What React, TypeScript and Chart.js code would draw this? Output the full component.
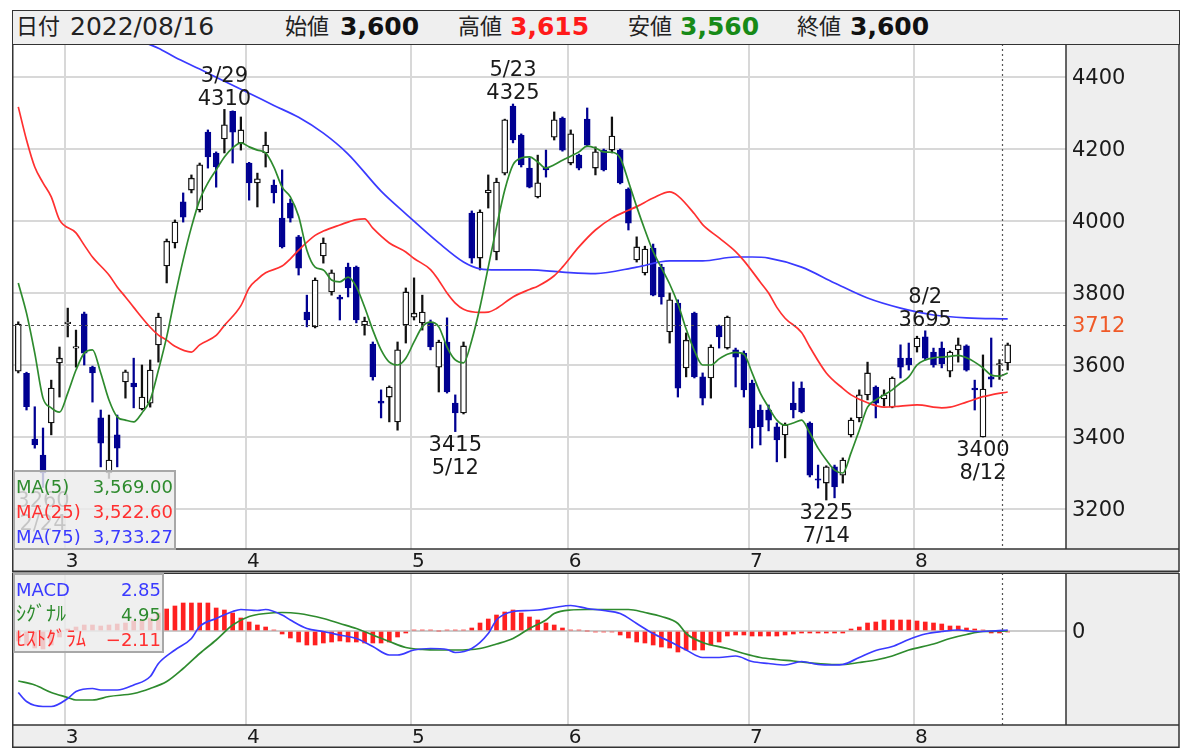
import React, { useEffect, useRef } from 'react';
import { Chart, registerables } from 'chart.js';

Chart.register(...registerables);

// ---------------- data ----------------
const OPEN = [
  3583, 3577, 3394, 3350, 3439, 3606, 3715, 3647, 3742, 3594,
  3453, 3300, 3406, 3553, 3550, 3478, 3494, 3656, 3875, 3939,
  4053, 4086, 4031, 4247, 4189, 4228, 4305, 4217, 4161, 4106,
  4189, 4100, 4008, 4050, 3956, 3747, 3706, 3903, 3803, 3789,
  3872, 3872, 3711, 3658, 3500, 3511, 3442, 3711, 3733, 3717,
  3717, 3594, 3664, 3494, 3467, 4022, 3897, 4078, 3914, 4133,
  4319, 4239, 4147, 4067, 4150, 4233, 4286, 4161, 4183, 4283,
  4147, 4197, 4197, 4197, 4089, 3892, 3856, 3925, 3872, 3692,
  3772, 3592, 3744, 3567, 3564, 3708, 3647, 3642, 3633, 3550,
  3475, 3475, 3428, 3406, 3494, 3536, 3439, 3283, 3272, 3317,
  3294, 3406, 3453, 3517, 3539, 3506, 3483, 3619, 3619, 3650,
  3678, 3636, 3647, 3583, 3642, 3653, 3536, 3400, 3567, 3600,
  3606,
];
const HIGH = [
  3720, 3580, 3484, 3425, 3558, 3650, 3758, 3697, 3747, 3597,
  3475, 3461, 3461, 3586, 3619, 3600, 3614, 3744, 3950, 4003,
  4078, 4128, 4161, 4253, 4192, 4310, 4306, 4289, 4163, 4133,
  4247, 4114, 4142, 4061, 3960, 3794, 3842, 3953, 3864, 3794,
  3883, 3875, 3733, 3664, 3531, 3542, 3664, 3814, 3842, 3794,
  3725, 3669, 3731, 3517, 3664, 4028, 4031, 4128, 4119, 4283,
  4325, 4242, 4175, 4183, 4197, 4303, 4289, 4253, 4186, 4314,
  4206, 4200, 4289, 4200, 4092, 3956, 3930, 3936, 3880, 3800,
  3781, 3689, 3747, 3578, 3656, 3711, 3736, 3647, 3639, 3558,
  3489, 3489, 3439, 3439, 3553, 3553, 3442, 3322, 3320, 3322,
  3342, 3453, 3531, 3608, 3542, 3531, 3567, 3656, 3661, 3680,
  3695, 3647, 3664, 3639, 3675, 3656, 3558, 3628, 3675, 3615,
  3661,
];
const LOW = [
  3578, 3475, 3369, 3260, 3406, 3511, 3678, 3594, 3600, 3497,
  3317, 3285, 3317, 3508, 3481, 3475, 3483, 3608, 3828, 3925,
  3997, 4078, 4025, 4147, 4094, 4189, 4161, 4197, 4058, 4039,
  4150, 4050, 3925, 3997, 3850, 3706, 3703, 3883, 3794, 3725,
  3789, 3717, 3683, 3558, 3453, 3442, 3419, 3661, 3725, 3697,
  3642, 3525, 3522, 3415, 3464, 3883, 3864, 4036, 3892, 4128,
  4217, 4150, 4092, 4064, 4122, 4225, 4194, 4156, 4142, 4206,
  4128, 4139, 4189, 4103, 3975, 3886, 3850, 3792, 3769, 3661,
  3511, 3567, 3564, 3489, 3508, 3647, 3644, 3539, 3511, 3369,
  3378, 3417, 3331, 3342, 3453, 3467, 3289, 3258, 3225, 3231,
  3272, 3400, 3442, 3503, 3453, 3486, 3481, 3564, 3586, 3636,
  3614, 3594, 3592, 3567, 3608, 3583, 3475, 3400, 3539, 3560,
  3586,
];
const CLOSE = [
  3714, 3484, 3378, 3300, 3536, 3619, 3719, 3651, 3633, 3578,
  3383, 3336, 3369, 3581, 3539, 3511, 3586, 3733, 3944, 3997,
  4011, 4119, 4156, 4178, 4150, 4267, 4247, 4253, 4106, 4117,
  4211, 4078, 3928, 4008, 3869, 3725, 3836, 3939, 3856, 3783,
  3814, 3725, 3722, 3567, 3494, 3539, 3642, 3803, 3744, 3747,
  3650, 3664, 3525, 3467, 3653, 3897, 4025, 4086, 4108, 4281,
  4225, 4156, 4094, 4106, 4142, 4281, 4197, 4242, 4147, 4211,
  4192, 4142, 4236, 4106, 3994, 3928, 3922, 3794, 3789, 3781,
  3536, 3669, 3567, 3508, 3650, 3678, 3733, 3622, 3531, 3425,
  3428, 3447, 3392, 3433, 3475, 3470, 3294, 3280, 3317, 3261,
  3336, 3447, 3517, 3578, 3494, 3517, 3564, 3594, 3600, 3675,
  3619, 3600, 3603, 3636, 3656, 3586, 3531, 3533, 3561, 3600,
  3656,
];

const MA5 = [
  3828, 3744, 3633, 3508, 3481, 3469, 3522, 3586, 3633, 3642,
  3578, 3503, 3456, 3447, 3442, 3467, 3503, 3586, 3678, 3789,
  3892, 3983, 4058, 4106, 4142, 4178, 4203, 4217, 4206, 4197,
  4189, 4150, 4094, 4067, 4013, 3919, 3872, 3864, 3836, 3831,
  3844, 3817, 3761, 3697, 3642, 3608, 3600, 3619, 3664, 3706,
  3719, 3706, 3650, 3614, 3606, 3669, 3761, 3872, 3983, 4086,
  4156, 4175, 4178, 4164, 4147, 4156, 4169, 4180, 4192, 4208,
  4203, 4192, 4191, 4175, 4110, 4040, 3975, 3915, 3870, 3825,
  3770, 3700, 3640, 3600, 3600, 3617, 3630, 3635, 3630, 3578,
  3522, 3483, 3447, 3433, 3439, 3447, 3411, 3369, 3336, 3308,
  3300, 3356, 3419, 3483, 3503, 3517, 3531, 3550, 3567, 3600,
  3614, 3620, 3622, 3624, 3627, 3620, 3608, 3592, 3572, 3569,
  3578,
];

const MA25_IDX = [
  0, 1, 2, 3, 4, 5, 7, 8, 9, 11, 12, 13, 14, 16, 17, 18, 19, 21, 22, 24,
  25, 27, 28, 29, 30, 32, 33, 34, 36, 37, 39, 41, 42, 43, 45, 47, 48, 50, 51, 52,
  53, 54, 56, 57, 58, 60, 62, 63, 65, 66, 68, 70, 72, 74, 75, 77, 79, 80, 82, 83,
  85, 87, 88, 90, 91, 92, 93, 95, 96, 98, 100, 101, 103, 105, 107, 109, 112, 113, 115, 117,
  118, 120,
];
const MA25_VAL = [
  4317, 4225, 4150, 4106, 4067, 4003, 3967, 3933, 3900, 3850, 3817, 3789, 3760, 3705, 3683, 3669, 3652, 3636, 3656, 3682,
  3710, 3765, 3814, 3838, 3856, 3875, 3895, 3919, 3960, 3972, 3989, 4004, 4006, 3980, 3939, 3914, 3896, 3865, 3835, 3800,
  3772, 3755, 3746, 3747, 3757, 3789, 3810, 3819, 3848, 3872, 3928, 3975, 4008, 4030, 4040, 4064, 4081, 4070, 4020, 3990,
  3953, 3915, 3890, 3830, 3800, 3760, 3730, 3690, 3650, 3578, 3535, 3517, 3495, 3483, 3486, 3489, 3481, 3483, 3497, 3512,
  3517, 3525,
];

const MA75_IDX = [
  12, 15, 17, 19, 22, 25, 28, 31, 34, 37, 40, 44, 47, 51, 54, 56, 58, 62, 66, 70,
  75, 79, 83, 87, 89, 91, 95, 99, 103, 107, 111, 115, 120,
];
const MA75_VAL = [
  4545, 4500, 4480, 4455, 4422, 4388, 4355, 4321, 4288, 4244, 4186, 4083, 4020, 3939, 3886, 3867, 3864, 3864, 3858, 3854,
  3872, 3889, 3889, 3900, 3900, 3897, 3872, 3828, 3786, 3758, 3739, 3731, 3728,
];

const MACD_IDX = [
  0, 1, 3, 4, 6, 7, 9, 10, 12, 14, 16, 17, 19, 21, 22, 24, 26, 27, 29, 30,
  32, 33, 35, 37, 39, 41, 43, 45, 46, 48, 50, 52, 53, 55, 57, 58, 60, 62, 63, 65,
  67, 69, 71, 73, 75, 77, 79, 81, 83, 85, 87, 89, 91, 93, 95, 97, 99, 100, 102, 104,
  106, 108, 110, 112, 114, 116, 118, 120,
];
const MACD_VAL = [
  -123, -141, -151, -151, -135, -121, -115, -118, -118, -108, -91, -65, -38, -15, 9, 25, 39, 43, 41, 43,
  32, 22, 5, -1, -8, -15, -31, -48, -48, -38, -35, -37, -43, -35, -5, 22, 39, 41, 42, 47,
  51, 45, 41, 35, 15, -5, -21, -38, -53, -53, -50, -61, -65, -68, -61, -67, -68, -67, -53, -39,
  -31, -17, -6, -1, 2, -1, 0, 2,
];

const SIGNAL_IDX = [
  0, 2, 4, 6, 7, 9, 11, 14, 16, 18, 20, 22, 24, 26, 28, 30, 32, 34, 37, 39,
  41, 43, 45, 47, 49, 51, 53, 56, 58, 60, 62, 64, 65, 67, 69, 72, 74, 76, 78, 80,
  81, 83, 86, 88, 90, 92, 94, 97, 99, 100, 102, 104, 106, 108, 111, 113, 115, 117, 120,
];
const SIGNAL_VAL = [
  -100, -108, -123, -133, -138, -138, -131, -125, -115, -101, -75, -45, -18, 12, 29, 35, 37, 35, 25, 15,
  5, -8, -21, -33, -37, -38, -38, -35, -26, -15, 5, 22, 35, 42, 43, 43, 43, 37, 29, 15,
  -5, -23, -35, -45, -53, -57, -60, -65, -67, -67, -63, -58, -50, -38, -26, -15, -7, -1, 0,
];

const HIST = [
  -20, -28, -34, -36, -28, -12, 4, 8, 12, 12,
  10, 12, 14, 16, 20, 22, 26, 36, 44, 50,
  56, 56, 56, 56, 46, 42, 36, 26, 18, 12,
  8, 2, -6, -14, -22, -28, -28, -24, -22, -20,
  -22, -22, -24, -24, -24, -22, -12, -4, 2, 2,
  2, 0, 2, 2, 2, 6, 16, 24, 32, 38,
  42, 36, 28, 22, 16, 12, 6, 2, 2, 0,
  -2, -2, -2, -8, -14, -22, -24, -28, -32, -34,
  -42, -38, -38, -38, -28, -22, -10, -8, -8, -10,
  -10, -10, -10, -8, -6, -4, -4, -4, -4, -4,
  -4, 4, 8, 16, 18, 22, 22, 22, 22, 20,
  18, 16, 14, 10, 10, 6, 4, 2, -4, -4,
  -2,
];

const MONTH_IDX = [6, 28, 48, 67, 89, 109];
const MONTH_LABELS = ['3', '4', '5', '6', '7', '8'];
const PRICE_TICKS = [3200, 3400, 3600, 3800, 4000, 4200, 4400];

const ANNOT_IDX = [3, 25, 53, 60, 98, 110, 117];
const ANNOT_DATE = ['2/24', '3/29', '5/12', '5/23', '7/14', '8/2', '8/12'];
const ANNOT_KIND = ['low', 'high', 'low', 'high', 'low', 'high', 'low'];

const CURSOR_POS = 119.3;
const CURSOR_PRICE = 3712;
const CUR_DATE = '2022/08/16';
const CUR_OPEN = 3600;
const CUR_HIGH = 3615;
const CUR_LOW = 3560;
const CUR_CLOSE = 3600;
const MA5_NOW = 3569.0;
const MA25_NOW = 3522.6;
const MA75_NOW = 3733.27;
const MACD_NOW = 2.85;
const SIGNAL_NOW = 4.95;
const HIST_NOW = -2.11;

// ---------------- layout / style ----------------
const FAMILY = '"DejaVu Sans", "Noto Sans CJK JP", sans-serif';
const FRAME_LEFT = 12;
const OUTER_RIGHT = 1179;
const STRIP_H = 23;
const X_MIN = -0.64;
const X_MAX = 127.07;
const GRID_SHIFT = 0.33;
const TEXT_NUDGE = 2;
const GRID_COLOR = '#d8d8d8';
const AXIS_TEXT = '#1a1a1a';
const PANEL_BG = '#eeeeee';
const FRAME_COLOR = '#333333';
const GREEN = '#2e8b2e';
const RED = '#ff3030';
const BLUE = '#3a3aff';
const NAVY = '#000092';

const IDX = OPEN.map((_, i) => i);
const fmt0 = (v: number) => v.toLocaleString('en-US');
const fmt2 = (v: number) =>
  (v < 0 ? '\u2212' : '') +
  Math.abs(v).toLocaleString('en-US', { minimumFractionDigits: 2, maximumFractionDigits: 2 });

function xAxis(): any {
  return {
    type: 'linear',
    min: X_MIN,
    max: X_MAX,
    offset: false,
    afterBuildTicks: (s: any) => {
      s.ticks = MONTH_IDX.map((i) => ({ value: i - GRID_SHIFT }));
    },
    afterFit: (s: any) => {
      s.height = STRIP_H;
      s.paddingLeft = 0;
      s.paddingRight = 0;
    },
    ticks: {
      autoSkip: false,
      maxRotation: 0,
      minRotation: 0,
      labelOffset: 7,
      padding: 1,
      color: AXIS_TEXT,
      font: { family: FAMILY, size: 20 },
      callback: (_v: any, i: number) => MONTH_LABELS[i],
    },
    grid: { color: GRID_COLOR, lineWidth: 2, drawTicks: false, offset: false },
    border: { display: false },
  };
}

function yFit(s: any) {
  s.width = 113;
  s.paddingTop = 0;
  s.paddingBottom = 0;
}

function line(ctx: CanvasRenderingContext2D, x1: number, y1: number, x2: number, y2: number) {
  ctx.beginPath();
  ctx.moveTo(x1, y1);
  ctx.lineTo(x2, y2);
  ctx.stroke();
}

const mainDeco = {
  id: 'mainDeco',
  beforeDraw(chart: any) {
    const { ctx, chartArea: a } = chart;
    ctx.save();
    ctx.fillStyle = '#ffffff';
    ctx.fillRect(a.left, a.top, a.right - a.left, a.bottom - a.top);
    ctx.fillStyle = PANEL_BG;
    ctx.fillRect(a.right, a.top, OUTER_RIGHT - a.right, a.bottom - a.top);
    ctx.fillRect(FRAME_LEFT, a.bottom, OUTER_RIGHT - FRAME_LEFT, STRIP_H);
    ctx.restore();
  },
  afterDatasetsDraw(chart: any) {
    const { ctx, chartArea: a } = chart;
    const xs = chart.scales.x;
    const ys = chart.scales.y;
    ctx.save();
    ctx.strokeStyle = '#555555';
    ctx.lineWidth = 1.2;
    ctx.setLineDash([3, 3]);
    const cy = Math.round(ys.getPixelForValue(CURSOR_PRICE)) + 0.5;
    line(ctx, a.left, cy, a.right, cy);
    ctx.setLineDash([2, 3]);
    const cx = Math.round(xs.getPixelForValue(CURSOR_POS)) + 0.5;
    line(ctx, cx, a.top, cx, a.bottom);
    ctx.setLineDash([]);
    ctx.font = '21px ' + FAMILY;
    ctx.fillStyle = '#1a1a1a';
    ctx.textAlign = 'center';
    ctx.textBaseline = 'middle';
    ANNOT_IDX.forEach((i, k) => {
      const x = xs.getPixelForValue(i);
      if (ANNOT_KIND[k] === 'high') {
        const y = ys.getPixelForValue(HIGH[i]) + TEXT_NUDGE;
        ctx.fillText(String(HIGH[i]), x, y - 12);
        ctx.fillText(ANNOT_DATE[k], x, y - 35);
      } else {
        const y = ys.getPixelForValue(LOW[i]) + TEXT_NUDGE;
        ctx.fillText(String(LOW[i]), x, y + 12);
        ctx.fillText(ANNOT_DATE[k], x, y + 35);
      }
    });
    ctx.restore();
  },
  afterDraw(chart: any) {
    const { ctx, chartArea: a } = chart;
    const ys = chart.scales.y;
    ctx.save();
    ctx.strokeStyle = FRAME_COLOR;
    ctx.lineWidth = 1.5;
    line(ctx, FRAME_LEFT + 0.75, a.top, FRAME_LEFT + 0.75, a.bottom + STRIP_H);
    line(ctx, OUTER_RIGHT, a.top, OUTER_RIGHT, a.bottom + STRIP_H);
    line(ctx, a.right, a.top, a.right, a.bottom);
    line(ctx, FRAME_LEFT, a.bottom, OUTER_RIGHT, a.bottom);
    line(ctx, FRAME_LEFT, a.bottom + STRIP_H - 0.75, OUTER_RIGHT, a.bottom + STRIP_H - 0.75);
    ctx.font = '21px ' + FAMILY;
    ctx.fillStyle = '#f05a28';
    ctx.textAlign = 'left';
    ctx.textBaseline = 'middle';
    ctx.fillText(String(CURSOR_PRICE), a.right + 6, ys.getPixelForValue(CURSOR_PRICE) + TEXT_NUDGE);
    ctx.restore();
  },
};

const macdDeco = {
  id: 'macdDeco',
  beforeDraw(chart: any) {
    const { ctx, chartArea: a } = chart;
    ctx.save();
    ctx.fillStyle = '#ffffff';
    ctx.fillRect(a.left, a.top, a.right - a.left, a.bottom - a.top);
    ctx.fillStyle = PANEL_BG;
    ctx.fillRect(a.right, a.top, OUTER_RIGHT - a.right, a.bottom - a.top);
    ctx.fillRect(FRAME_LEFT, a.bottom, OUTER_RIGHT - FRAME_LEFT, STRIP_H);
    ctx.restore();
  },
  afterDatasetsDraw(chart: any) {
    const { ctx, chartArea: a } = chart;
    const xs = chart.scales.x;
    ctx.save();
    ctx.strokeStyle = '#555555';
    ctx.lineWidth = 1.2;
    ctx.setLineDash([2, 3]);
    const cx = Math.round(xs.getPixelForValue(CURSOR_POS)) + 0.5;
    line(ctx, cx, a.top, cx, a.bottom);
    ctx.restore();
  },
  afterDraw(chart: any) {
    const { ctx, chartArea: a } = chart;
    ctx.save();
    ctx.strokeStyle = FRAME_COLOR;
    ctx.lineWidth = 1.5;
    line(ctx, FRAME_LEFT + 0.75, a.top, FRAME_LEFT + 0.75, a.bottom + STRIP_H);
    line(ctx, OUTER_RIGHT, a.top, OUTER_RIGHT, a.bottom + STRIP_H);
    line(ctx, a.right, a.top, a.right, a.bottom);
    line(ctx, FRAME_LEFT, a.top + 0.25, OUTER_RIGHT, a.top + 0.25);
    line(ctx, FRAME_LEFT, a.bottom, OUTER_RIGHT, a.bottom);
    line(ctx, FRAME_LEFT, a.bottom + STRIP_H - 0.75, OUTER_RIGHT, a.bottom + STRIP_H - 0.75);
    ctx.restore();
  },
};

function mainConfig(): any {
  const isUp = (i: number) => CLOSE[i] >= OPEN[i];
  return {
    type: 'bar',
    data: {
      datasets: [
        {
          type: 'line',
          data: IDX.map((i) => ({ x: i, y: MA5[i] })),
          borderColor: GREEN,
          borderWidth: 1.7,
          pointRadius: 0,
          cubicInterpolationMode: 'monotone',
          order: 0,
        },
        {
          type: 'line',
          data: MA25_IDX.map((x, k) => ({ x, y: MA25_VAL[k] })),
          borderColor: RED,
          borderWidth: 1.7,
          pointRadius: 0,
          cubicInterpolationMode: 'monotone',
          order: 0,
        },
        {
          type: 'line',
          data: MA75_IDX.map((x, k) => ({ x, y: MA75_VAL[k] })),
          borderColor: BLUE,
          borderWidth: 1.7,
          pointRadius: 0,
          cubicInterpolationMode: 'monotone',
          order: 0,
        },
        {
          type: 'bar',
          data: IDX.map((i) => ({ x: i, y: [OPEN[i], CLOSE[i]] })),
          backgroundColor: IDX.map((i) => (isUp(i) ? '#ffffff' : NAVY)),
          borderColor: IDX.map((i) => (isUp(i) ? '#111111' : NAVY)),
          borderWidth: 1.3,
          borderSkipped: false,
          barThickness: 6,
          minBarLength: 1.5,
          grouped: false,
          order: 1,
        },
        {
          type: 'bar',
          data: IDX.map((i) => ({ x: i, y: [LOW[i], HIGH[i]] })),
          backgroundColor: IDX.map((i) => (isUp(i) ? '#111111' : NAVY)),
          borderWidth: 0,
          barThickness: 1.6,
          grouped: false,
          order: 2,
        },
      ],
    },
    options: {
      animation: false,
      responsive: false,
      maintainAspectRatio: false,
      events: [],
      layout: { padding: { left: 13, right: 1200 - OUTER_RIGHT, top: 44, bottom: 0 } },
      plugins: { legend: { display: false }, tooltip: { enabled: false } },
      scales: {
        x: xAxis(),
        y: {
          type: 'linear',
          position: 'right',
          min: 3088.9,
          max: 4491.7,
          afterBuildTicks: (s: any) => {
            s.ticks = PRICE_TICKS.map((v) => ({ value: v }));
          },
          afterFit: yFit,
          ticks: {
            padding: 6,
            labelOffset: TEXT_NUDGE,
            color: AXIS_TEXT,
            font: { family: FAMILY, size: 21 },
            callback: (v: any) => String(v),
          },
          grid: { color: GRID_COLOR, lineWidth: 2, drawTicks: false },
          border: { display: false },
        },
      },
    },
    plugins: [mainDeco],
  };
}

function macdConfig(): any {
  return {
    type: 'bar',
    data: {
      datasets: [
        {
          type: 'line',
          data: MACD_IDX.map((x, k) => ({ x, y: MACD_VAL[k] })),
          borderColor: BLUE,
          borderWidth: 1.7,
          pointRadius: 0,
          cubicInterpolationMode: 'monotone',
          order: 0,
        },
        {
          type: 'line',
          data: SIGNAL_IDX.map((x, k) => ({ x, y: SIGNAL_VAL[k] })),
          borderColor: GREEN,
          borderWidth: 1.7,
          pointRadius: 0,
          cubicInterpolationMode: 'monotone',
          order: 1,
        },
        {
          type: 'bar',
          data: IDX.map((i) => ({ x: i, y: HIST[i] })),
          backgroundColor: '#ff2020',
          borderWidth: 0,
          barThickness: 4,
          grouped: false,
          order: 2,
        },
      ],
    },
    options: {
      animation: false,
      responsive: false,
      maintainAspectRatio: false,
      events: [],
      layout: { padding: { left: 13, right: 1200 - OUTER_RIGHT, top: 1, bottom: 3 } },
      plugins: { legend: { display: false }, tooltip: { enabled: false } },
      scales: {
        x: xAxis(),
        y: {
          type: 'linear',
          position: 'right',
          min: -188,
          max: 116,
          afterBuildTicks: (s: any) => {
            s.ticks = [{ value: 0 }];
          },
          afterFit: yFit,
          ticks: {
            padding: 6,
            labelOffset: TEXT_NUDGE,
            color: AXIS_TEXT,
            font: { family: FAMILY, size: 21 },
            callback: (v: any) => String(v),
          },
          grid: { color: '#cccccc', lineWidth: 2, drawTicks: false },
          border: { display: false },
        },
      },
    },
    plugins: [macdDeco],
  };
}

const legendBox: React.CSSProperties = {
  position: 'absolute',
  left: 13,
  background: 'rgba(236,236,236,0.82)',
  border: '2px solid #a8a8a8',
  boxSizing: 'border-box',
  fontFamily: FAMILY,
  fontSize: 18,
  zIndex: 3,
};

function Row({ label, value, color, top, width, labelSize }: any) {
  return (
    <div style={{ position: 'absolute', left: 0, top, width, height: 25, lineHeight: '25px', color }}>
      <span style={{ position: 'absolute', left: 1, fontSize: labelSize || 18 }}>{label}</span>
      <span style={{ position: 'absolute', right: 1 }}>{value}</span>
    </div>
  );
}

export default function App() {
  const mainRef = useRef<HTMLCanvasElement>(null);
  const macdRef = useRef<HTMLCanvasElement>(null);

  useEffect(() => {
    document.body.style.margin = '0';
    const c1 = new Chart(mainRef.current as HTMLCanvasElement, mainConfig());
    const c2 = new Chart(macdRef.current as HTMLCanvasElement, macdConfig());
    return () => {
      c1.destroy();
      c2.destroy();
    };
  }, []);

  const hdrLabel: React.CSSProperties = {
    position: 'absolute',
    top: 0,
    lineHeight: '32px',
    fontSize: 22,
    color: '#222',
    whiteSpace: 'nowrap',
  };
  const hdrVal: React.CSSProperties = {
    position: 'absolute',
    top: 0,
    lineHeight: '32px',
    fontSize: 25,
    fontWeight: 'bold',
    color: '#111',
    whiteSpace: 'nowrap',
  };

  return (
    <div
      style={{
        position: 'absolute',
        left: 0,
        top: 0,
        width: 1200,
        height: 751,
        background: '#ffffff',
        overflow: 'hidden',
        fontFamily: FAMILY,
      }}
    >
      <canvas
        ref={mainRef}
        width={1200}
        height={572}
        style={{ position: 'absolute', left: 0, top: 0, width: 1200, height: 572 }}
      />
      <canvas
        ref={macdRef}
        width={1200}
        height={179}
        style={{ position: 'absolute', left: 0, top: 572, width: 1200, height: 179 }}
      />
      <div
        style={{
          position: 'absolute',
          left: FRAME_LEFT,
          top: 10,
          width: OUTER_RIGHT - FRAME_LEFT + 1,
          height: 35,
          background: '#efefef',
          border: '1.5px solid #333',
          boxSizing: 'border-box',
          zIndex: 2,
        }}
      >
        <span style={{ ...hdrLabel, left: 3 }}>日付</span>
        <span style={{ ...hdrLabel, left: 57, fontSize: 25 }}>{CUR_DATE}</span>
        <span style={{ ...hdrLabel, left: 272 }}>始値</span>
        <span style={{ ...hdrVal, left: 327 }}>{fmt0(CUR_OPEN)}</span>
        <span style={{ ...hdrLabel, left: 445 }}>高値</span>
        <span style={{ ...hdrVal, left: 497, color: '#ff1a1a' }}>{fmt0(CUR_HIGH)}</span>
        <span style={{ ...hdrLabel, left: 615 }}>安値</span>
        <span style={{ ...hdrVal, left: 667, color: '#178a17' }}>{fmt0(CUR_LOW)}</span>
        <span style={{ ...hdrLabel, left: 784 }}>終値</span>
        <span style={{ ...hdrVal, left: 837 }}>{fmt0(CUR_CLOSE)}</span>
      </div>

      <div style={{ ...legendBox, top: 470, width: 163, height: 80 }}>
        <Row label="MA(5)" value={fmt2(MA5_NOW)} color={GREEN} top={2} width={159} />
        <Row label="MA(25)" value={fmt2(MA25_NOW)} color={RED} top={27} width={159} />
        <Row label="MA(75)" value={fmt2(MA75_NOW)} color={BLUE} top={52} width={159} />
      </div>

      <div style={{ ...legendBox, top: 573, width: 151, height: 80 }}>
        <Row label="MACD" value={fmt2(MACD_NOW)} color={BLUE} top={2} width={147} />
        <Row label="ｼｸﾞﾅﾙ" value={fmt2(SIGNAL_NOW)} color={GREEN} top={27} width={147} labelSize={20} />
        <Row label="ﾋｽﾄｸﾞﾗﾑ" value={fmt2(HIST_NOW)} color={RED} top={52} width={147} labelSize={20} />
      </div>
    </div>
  );
}
